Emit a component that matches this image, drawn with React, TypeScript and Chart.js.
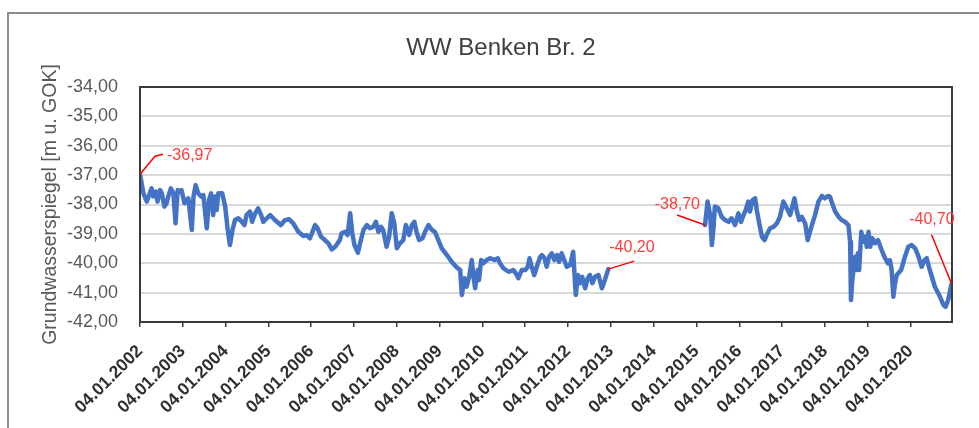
import { useEffect, useRef } from "react";
import { Chart, registerables } from "chart.js";

Chart.register(...registerables);

const TITLE = "WW Benken Br. 2";
const Y_TITLE = "Grundwasserspiegel [m u. GOK]";

const YEARS = [2002, 2003, 2004, 2005, 2006, 2007, 2008, 2009, 2010, 2011, 2012, 2013, 2014, 2015, 2016, 2017, 2018, 2019, 2020];
const TICK_LABELS = [
  "04.01.2002", "04.01.2003", "04.01.2004", "04.01.2005", "04.01.2006", "04.01.2007",
  "04.01.2008", "04.01.2009", "04.01.2010", "04.01.2011", "04.01.2012", "04.01.2013",
  "04.01.2014", "04.01.2015", "04.01.2016", "04.01.2017", "04.01.2018", "04.01.2019", "04.01.2020",
];
const X_MIN = 2002;
const X_MAX = 2020.97;
const Y_MIN = -42;
const Y_MAX = -34;

// decimal years (2002.00 = 04.01.2002)
const DATES = [
  2002.00, 2002.08, 2002.16, 2002.23, 2002.27, 2002.31, 2002.37, 2002.41, 2002.47, 2002.51,
  2002.57, 2002.62, 2002.66, 2002.72, 2002.78, 2002.83, 2002.88, 2002.93, 2002.97, 2003.04,
  2003.09, 2003.13, 2003.21, 2003.25, 2003.30, 2003.36, 2003.43, 2003.48, 2003.56, 2003.61,
  2003.66, 2003.71, 2003.75, 2003.79, 2003.83, 2003.92, 2003.99, 2004.05, 2004.10, 2004.16,
  2004.22, 2004.30, 2004.38, 2004.44, 2004.49, 2004.57, 2004.62, 2004.69, 2004.76, 2004.83,
  2004.88, 2004.96, 2005.04, 2005.15, 2005.29, 2005.39, 2005.48, 2005.58, 2005.70, 2005.82,
  2005.89, 2005.97, 2006.09, 2006.15, 2006.23, 2006.32, 2006.40, 2006.48, 2006.56, 2006.67,
  2006.71, 2006.79, 2006.85, 2006.91, 2006.96, 2007.01, 2007.09, 2007.16, 2007.22, 2007.30,
  2007.37, 2007.45, 2007.51, 2007.57, 2007.63, 2007.68, 2007.76, 2007.82, 2007.88, 2007.94,
  2008.00, 2008.07, 2008.15, 2008.21, 2008.29, 2008.35, 2008.41, 2008.46, 2008.52, 2008.60,
  2008.66, 2008.74, 2008.82, 2008.89, 2008.97, 2009.05, 2009.17, 2009.28, 2009.40, 2009.48,
  2009.52, 2009.58, 2009.63, 2009.69, 2009.75, 2009.79, 2009.83, 2009.89, 2009.92, 2009.97,
  2010.02, 2010.10, 2010.18, 2010.28, 2010.36, 2010.41, 2010.49, 2010.61, 2010.72, 2010.78,
  2010.84, 2010.92, 2011.00, 2011.06, 2011.10, 2011.15, 2011.21, 2011.27, 2011.35, 2011.39,
  2011.45, 2011.50, 2011.56, 2011.62, 2011.68, 2011.74, 2011.79, 2011.85, 2011.91, 2011.97,
  2012.05, 2012.12, 2012.18, 2012.23, 2012.28, 2012.33, 2012.40, 2012.46, 2012.51, 2012.57,
  2012.63, 2012.71, 2012.79, 2012.86, 2012.94,
  2014.00,
  2015.20, 2015.26, 2015.32, 2015.36, 2015.40, 2015.43, 2015.51, 2015.59, 2015.67, 2015.75,
  2015.82, 2015.90, 2015.98, 2016.04, 2016.10, 2016.15, 2016.21, 2016.25, 2016.31, 2016.37,
  2016.41, 2016.46, 2016.53, 2016.59, 2016.64, 2016.72, 2016.80, 2016.88, 2016.95, 2017.03,
  2017.11, 2017.19, 2017.24, 2017.29, 2017.34, 2017.40, 2017.46, 2017.54, 2017.60, 2017.65,
  2017.71, 2017.77, 2017.85, 2017.93, 2018.00, 2018.07, 2018.12, 2018.17, 2018.24, 2018.32,
  2018.39, 2018.47, 2018.55, 2018.59, 2018.61, 2018.64, 2018.71, 2018.74, 2018.77, 2018.80,
  2018.85, 2018.90, 2018.94, 2018.98, 2019.02, 2019.06, 2019.11, 2019.17, 2019.24, 2019.31,
  2019.39, 2019.47, 2019.52, 2019.56, 2019.60, 2019.64, 2019.68, 2019.78, 2019.87, 2019.95,
  2020.03, 2020.11, 2020.19, 2020.26, 2020.33, 2020.38, 2020.43, 2020.50, 2020.57, 2020.67,
  2020.77, 2020.82, 2020.88, 2020.96,
];

// groundwater level [m u. GOK]
const LEVELS: (number | null)[] = [
  -36.97, -37.62, -37.90, -37.62, -37.45, -37.73, -37.56, -37.90, -37.51, -37.62,
  -38.07, -37.96, -37.73, -37.45, -37.62, -38.64, -37.51, -37.56, -37.51, -37.96,
  -37.85, -37.79, -38.87, -37.73, -37.34, -37.62, -37.73, -37.68, -38.81, -37.85,
  -37.62, -38.36, -37.73, -38.19, -37.62, -37.62, -38.07, -38.87, -39.38, -38.87,
  -38.53, -38.47, -38.59, -38.70, -38.36, -38.24, -38.59, -38.30, -38.13, -38.36,
  -38.59, -38.47, -38.36, -38.53, -38.70, -38.53, -38.50, -38.64, -38.93, -39.07,
  -39.04, -39.15, -38.70, -38.81, -39.10, -39.21, -39.32, -39.53, -39.44, -39.21,
  -38.98, -38.93, -39.04, -38.30, -38.98, -39.38, -39.64, -39.21, -38.87, -38.70,
  -38.81, -38.76, -38.59, -38.93, -38.76, -38.87, -39.44, -39.10, -38.30, -38.64,
  -39.49, -39.32, -39.21, -38.70, -39.04, -38.70, -38.59, -38.93, -39.21, -39.15,
  -38.93, -38.70, -38.87, -38.93, -39.21, -39.49, -39.72, -39.95, -40.14, -40.23,
  -41.08, -40.51, -40.80, -40.46, -39.89, -40.46, -40.85, -40.23, -40.57, -39.89,
  -40.00, -39.89, -39.83, -39.89, -39.83, -40.00, -40.17, -40.29, -40.23, -40.34,
  -40.51, -40.23, -40.23, -40.12, -39.83, -40.12, -40.40, -40.12, -39.78, -39.72,
  -39.83, -40.12, -39.78, -39.66, -39.89, -39.72, -39.95, -39.66, -39.89, -40.12,
  -40.06, -39.61, -41.08, -40.40, -40.68, -40.46, -40.85, -40.51, -40.40, -40.68,
  -40.46, -40.40, -40.85, -40.57, -40.20,
  null,
  -38.70, -37.90, -38.36, -39.38, -38.76, -38.07, -38.13, -38.42, -38.53, -38.59,
  -38.47, -38.70, -38.30, -38.59, -38.36, -38.19, -37.90, -38.24, -37.85, -37.79,
  -38.19, -38.59, -39.10, -39.21, -39.04, -38.81, -38.76, -38.64, -38.42, -37.90,
  -38.13, -38.36, -38.07, -37.79, -38.19, -38.53, -38.42, -38.64, -39.21, -38.93,
  -38.64, -38.36, -37.90, -37.71, -37.79, -37.71, -37.73, -37.96, -38.24, -38.42,
  -38.53, -38.59, -38.70, -39.27, -41.25, -40.57, -39.78, -40.23, -39.66, -40.23,
  -38.93, -39.27, -39.10, -39.44, -38.93, -39.44, -39.15, -39.32, -39.21, -39.49,
  -39.78, -40.00, -39.89, -40.23, -41.14, -40.68, -40.40, -40.23, -39.78, -39.44,
  -39.38, -39.49, -39.78, -40.12, -39.89, -39.83, -40.12, -40.46, -40.80, -41.08,
  -41.42, -41.48, -41.25, -40.70,
];

const ANN_DATES = [2002.0, 2012.94, 2015.2, 2020.96];
const ANN_VALUES = [-36.97, -40.2, -38.7, -40.7];
const ANN_LABELS = ["-36,97", "-40,20", "-38,70", "-40,70"];

// leader-line and text placement relative to the annotated point (px)
const ANN_STYLE = [
  { path: [[0, 0], [15, -18], [23, -20]], tx: 27, ty: -19, align: "left" },
  { path: [[0, 0], [26, -8]], tx: 1, ty: -22, align: "left" },
  { path: [[0, 0], [-28, -10]], tx: -5, ty: -20, align: "right" },
  { path: [[0, 0], [-20, -49]], tx: 3, ty: -64, align: "right" },
];

const FONT = "'Liberation Sans', Arial, sans-serif";

const decorPlugin = {
  id: "decor",
  beforeDraw(chart: any) {
    const ctx = chart.ctx;
    ctx.save();
    ctx.fillStyle = "#ffffff";
    ctx.fillRect(0, 0, chart.width, chart.height);
    ctx.fillStyle = "#8c8c8c";
    ctx.fillRect(7, 12, 2, chart.height - 12);
    ctx.fillRect(7, 12, chart.width - 7, 2);
    ctx.fillStyle = "#404040";
    ctx.font = `24px ${FONT}`;
    ctx.textAlign = "center";
    ctx.textBaseline = "middle";
    ctx.fillText(TITLE, 501, 48);
    ctx.restore();
  },
  afterDraw(chart: any) {
    const ctx = chart.ctx;
    const a = chart.chartArea;
    ctx.save();
    ctx.strokeStyle = "#3a3a3a";
    ctx.lineWidth = 2;
    ctx.strokeRect(a.left, a.top, a.right - a.left, a.bottom - a.top);
    const xs = chart.scales.x;
    const ys = chart.scales.y;
    ctx.font = `16px ${FONT}`;
    ctx.textBaseline = "middle";
    for (let i = 0; i < ANN_VALUES.length; i++) {
      const px = xs.getPixelForValue(ANN_DATES[i]);
      const py = ys.getPixelForValue(ANN_VALUES[i]);
      const st = ANN_STYLE[i];
      ctx.strokeStyle = "#ff0000";
      ctx.lineWidth = 1.5;
      ctx.beginPath();
      st.path.forEach((p, j) => {
        if (j === 0) ctx.moveTo(px + p[0], py + p[1]);
        else ctx.lineTo(px + p[0], py + p[1]);
      });
      ctx.stroke();
      ctx.fillStyle = "#ff3b3b";
      ctx.textAlign = st.align;
      ctx.fillText(ANN_LABELS[i], px + st.tx, py + st.ty);
    }
    ctx.restore();
  },
};

export default function App() {
  const ref = useRef<HTMLCanvasElement>(null);
  useEffect(() => {
    if (!ref.current) return;
    const points = DATES.map((d, i) => ({ x: d, y: LEVELS[i] }));
    const chart = new Chart(ref.current, {
      type: "line",
      data: {
        datasets: [
          {
            data: points as any,
            borderColor: "#4472C4",
            borderWidth: 4.5,
            pointRadius: 0,
            tension: 0,
            spanGaps: false,
            borderJoinStyle: "round",
            borderCapStyle: "round",
          },
        ],
      },
      options: {
        animation: false,
        responsive: false,
        devicePixelRatio: 1,
        layout: { padding: { top: 87, right: 27, left: 0, bottom: 0 } },
        plugins: { legend: { display: false }, tooltip: { enabled: false }, title: { display: false } },
        scales: {
          x: {
            type: "linear",
            min: X_MIN,
            max: X_MAX,
            afterBuildTicks: (scale: any) => {
              scale.ticks = YEARS.map((v) => ({ value: v }));
            },
            afterFit: (scale: any) => {
              scale.height = 106;
            },
            grid: { drawOnChartArea: false, drawTicks: true, tickLength: 5, color: "#404040", lineWidth: 1.5 },
            border: { display: false },
            ticks: {
              autoSkip: false,
              minRotation: 45,
              maxRotation: 45,
              padding: 14,
              color: "#303030",
              font: { family: FONT, size: 17.5, weight: "bold" },
              callback: (v: any) => TICK_LABELS[YEARS.indexOf(Number(v))],
            },
          },
          y: {
            min: Y_MIN,
            max: Y_MAX,
            afterFit: (scale: any) => {
              scale.width = 140;
            },
            grid: { color: "#d9d9d9", lineWidth: 2, drawTicks: false },
            border: { display: false },
            ticks: {
              stepSize: 1,
              padding: 22,
              color: "#595959",
              font: { family: FONT, size: 18 },
              callback: (v: any) => Number(v).toFixed(2).replace(".", ","),
            },
            title: {
              display: true,
              text: Y_TITLE,
              color: "#595959",
              font: { family: FONT, size: 19.5 },
              padding: { top: 39, bottom: 0 },
            },
          },
        },
      },
      plugins: [decorPlugin as any],
    });
    return () => chart.destroy();
  }, []);
  return (
    <canvas
      ref={ref}
      width={979}
      height={428}
      style={{ position: "fixed", left: 0, top: 0, width: 979, height: 428, display: "block" }}
    />
  );
}
